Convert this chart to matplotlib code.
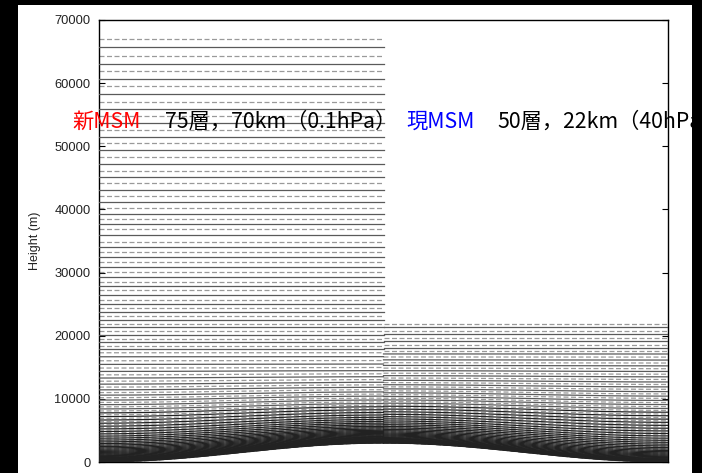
import matplotlib
matplotlib.use("Agg")
import matplotlib.pyplot as plt
from matplotlib.patches import Rectangle
import numpy as np

# interface (half-level) heights, metres
new_msm_half = [0, 45, 93, 145, 200, 260, 325, 394, 468, 548, 634, 726, 825, 932,
                1047, 1170, 1303, 1445, 1598, 1763, 1940, 2130, 2335, 2555, 2791,
                3045, 3319, 3613, 3929, 4268, 4633, 5025, 5447, 5900, 6387, 6912,
                7475, 8081, 8732, 9431, 10184, 10993, 11862, 12796, 13801, 14880,
                16030, 17300, 18410, 19520, 20790, 21900, 23170, 24440, 25710,
                27300, 28570, 30160, 31750, 33330, 34920, 36830, 38410, 40160,
                42060, 44130, 46030, 48250, 50480, 52540, 54760, 57000, 59500,
                61900, 64300, 67000]
cur_msm_half = [0, 38, 80, 127, 180, 239, 306, 380, 463, 556, 659, 772, 898, 1036,
                1188, 1353, 1534, 1729, 1942, 2171, 2418, 2684, 2969, 3274, 3600,
                3948, 4318, 4711, 5128, 5570, 6038, 6531, 7052, 7600, 8176, 8782,
                9418, 10085, 10783, 11513, 12276, 13073, 13905, 14772, 15675, 16615,
                17593, 18608, 19663, 20758, 21893]
hill_top = 3000      # terrain peak at the panel boundary (m)
flat_level = 18000   # height where levels become flat (m)
yticks = [0, 10000, 20000, 30000, 40000, 50000, 60000, 70000]

W, H = 702, 473
fig = plt.figure(figsize=(W / 100, H / 100), dpi=100, facecolor='white')
ax = fig.add_axes([99 / W, 1 - 462 / H, (668 - 99) / W, (462 - 20) / H])


def terrain(x):
    return hill_top / 2 * (1 - np.cos(np.pi * x))


def draw_levels(half, x0, x1):
    half = np.array(half, dtype=float)
    full = (half[1:] + half[:-1]) / 2
    x = np.linspace(x0, x1, 300)
    h = terrain(x)
    for eta in half:
        dec = max(0.0, 1 - eta / flat_level) ** 2
        ax.plot(x, eta + h * dec, color='#9a9a9a', lw=0.9,
                linestyle=(0, (4, 2)), zorder=2)
    for eta in full:
        dec = max(0.0, 1 - eta / flat_level) ** 2
        # darker near the ground where the mesh gets dense
        c = '#222222' if eta < 8000 else '#5a5a5a'
        ax.plot(x, eta + h * dec, color=c, lw=0.9, zorder=3)


draw_levels(new_msm_half, 0, 1)
draw_levels(cur_msm_half, 1, 2)

ax.set_xlim(0, 2)
ax.set_ylim(0, 70000)
ax.set_xticks([])
ax.set_yticks(yticks)
ax.set_yticklabels([str(t) for t in yticks], fontsize=9.3, family='Liberation Sans',
                   color='#222222')
ax.tick_params(axis='y', direction='in', length=4, width=0.8, pad=6,
               right=True)
for s in ax.spines.values():
    s.set_linewidth(1.0)
    s.set_color('black')
ax.set_ylabel('Height (m)', fontsize=9, family='Liberation Sans', labelpad=10,
              color='#222222')

jp = ['Noto Sans CJK JP', 'DejaVu Sans']
ty = 1 - 122 / H
fs = 15.3
fig.text(72 / W, ty, '新MSM', color='red', fontsize=fs, family=jp, va='center', zorder=5)
fig.text(165 / W, ty, '75層，70km（0.1hPa）', color='black', fontsize=fs, family=jp,
         va='center', zorder=5)
fig.text(406 / W, ty, '現MSM', color='blue', fontsize=fs, family=jp, va='center', zorder=5)
fig.text(497 / W, ty, '50層，22km（40hPa）', color='black', fontsize=fs, family=jp,
         va='center', zorder=5)

# black border round the slide image
for (x, y, w, h) in [(0, 0, 18, H), (692, 0, W - 692, H), (0, 0, W, 5)]:
    fig.patches.append(Rectangle((x / W, 1 - (y + h) / H), w / W, h / H,
                                 transform=fig.transFigure, facecolor='black',
                                 edgecolor='none', zorder=10))

fig.savefig('out.png', dpi=100, facecolor='white')
